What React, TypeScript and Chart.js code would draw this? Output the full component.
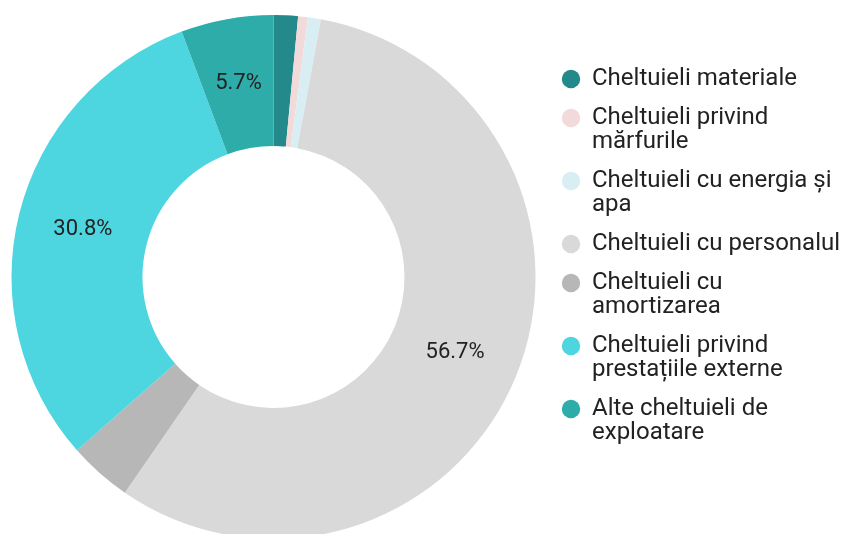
import React, { useEffect, useRef } from 'react';
import { Chart, registerables } from 'chart.js';

Chart.register(...registerables);

const categories: (string | string[])[] = [
  'Cheltuieli materiale',
  ['Cheltuieli privind', 'mărfurile'],
  ['Cheltuieli cu energia și', 'apa'],
  'Cheltuieli cu personalul',
  ['Cheltuieli cu', 'amortizarea'],
  ['Cheltuieli privind', 'prestațiile externe'],
  ['Alte cheltuieli de', 'exploatare'],
];
const values = [1.5, 0.6, 0.8, 56.7, 3.9, 30.8, 5.7];
const colors = ['#23898a', '#f2dada', '#d9eef3', '#d9d9d9', '#b7b7b7', '#4dd6e0', '#2eacaa'];
const labelThreshold = 5;

const pctPlugin = {
  id: 'pctLabels',
  afterDatasetsDraw(chart: any) {
    const ctx = chart.ctx;
    const meta = chart.getDatasetMeta(0);
    ctx.save();
    ctx.font = '22px Roboto';
    ctx.fillStyle = '#222222';
    ctx.textAlign = 'center';
    ctx.textBaseline = 'middle';
    meta.data.forEach((arc: any, i: number) => {
      const v = values[i];
      if (v < labelThreshold) return;
      const p = arc.tooltipPosition();
      ctx.fillText(v.toFixed(1) + '%', p.x, p.y);
    });
    ctx.restore();
  },
};

export default function App() {
  const ref = useRef<HTMLCanvasElement>(null);
  useEffect(() => {
    document.body.style.margin = '0';
    const chart = new Chart(ref.current as HTMLCanvasElement, {
      type: 'doughnut',
      data: {
        labels: categories as any,
        datasets: [
          {
            data: values,
            backgroundColor: colors,
            borderWidth: 0,
          },
        ],
      },
      options: {
        responsive: false,
        animation: false,
        cutout: '50%',
        layout: { padding: { top: 15, bottom: 1, left: 0, right: 0 } },
        plugins: {
          tooltip: { enabled: false },
          legend: {
            position: 'right',
            align: 'start',
            maxWidth: 294,
            title: { display: true, text: '', font: { size: 10 }, padding: 12.5 },
            labels: {
              usePointStyle: true,
              pointStyle: 'circle',
              boxWidth: 18,
              boxHeight: 13,
              padding: 15,
              color: '#222222',
              font: { family: 'Roboto', size: 24, lineHeight: '24px' },
            },
          },
        },
      },
      plugins: [pctPlugin],
    });
    return () => chart.destroy();
  }, []);
  return (
    <div style={{ width: 841, height: 540 }}>
      <canvas ref={ref} width={841} height={540} style={{ display: 'block' }} />
    </div>
  );
}
